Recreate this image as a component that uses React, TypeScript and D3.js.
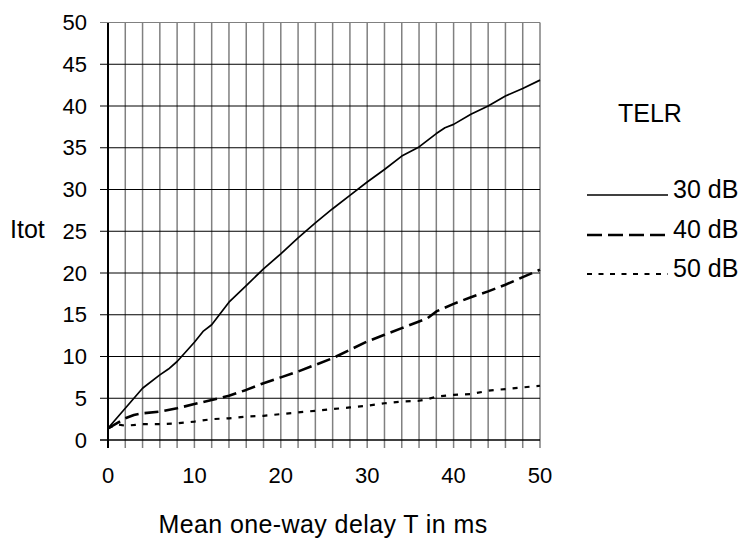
import * as d3 from "d3";

// TELR 30 dB
const delay30 = [0, 2, 4, 6, 7, 8, 10, 11, 12, 14, 16, 18, 20, 22, 24, 26, 28, 30, 32, 34, 36, 38, 39, 40, 42, 44, 46, 48, 50];
const itot30 = [1.4, 3.8, 6.2, 7.8, 8.5, 9.4, 11.7, 13.0, 13.8, 16.5, 18.5, 20.5, 22.3, 24.2, 26.0, 27.7, 29.3, 30.9, 32.4, 34.0, 35.1, 36.7, 37.4, 37.8, 39.0, 40.0, 41.2, 42.1, 43.1];

// TELR 40 dB
const delay40 = [0, 1, 2, 3, 4, 6, 8, 10, 12, 14, 16, 18, 20, 22, 24, 26, 28, 30, 32, 34, 36, 37, 38, 40, 42, 44, 46, 48, 50];
const itot40 = [1.4, 2.0, 2.6, 3.0, 3.2, 3.4, 3.8, 4.3, 4.8, 5.3, 6.0, 6.8, 7.5, 8.2, 9.0, 9.8, 10.8, 11.8, 12.6, 13.4, 14.2, 14.6, 15.4, 16.3, 17.1, 17.8, 18.6, 19.5, 20.4];

// TELR 50 dB
const delay50 = [0, 1, 2, 4, 6, 8, 10, 12, 14, 16, 18, 20, 22, 24, 26, 28, 30, 32, 34, 36, 37, 38, 40, 42, 44, 46, 48, 50];
const itot50 = [1.4, 1.9, 1.7, 1.9, 1.9, 2.0, 2.2, 2.5, 2.6, 2.8, 2.9, 3.1, 3.3, 3.5, 3.7, 3.9, 4.1, 4.4, 4.6, 4.7, 4.9, 5.2, 5.4, 5.5, 5.9, 6.1, 6.3, 6.5];

const legendLabels = ["30 dB", "40 dB", "50 dB"];
const yTicks = [0, 5, 10, 15, 20, 25, 30, 35, 40, 45, 50];
const xTicks = [0, 10, 20, 30, 40, 50];

const W = 739;
const H = 538;
const font = "Arial, 'Liberation Sans', sans-serif";

export default function App() {
  const x = d3.scaleLinear().domain([0, 50]).range([108, 540]);
  const y = d3.scaleLinear().domain([0, 50]).range([440, 22.5]);

  const line = d3
    .line<[number, number]>()
    .x((d) => x(d[0]))
    .y((d) => y(d[1]));

  const series = [
    { pts: delay30.map((d, i) => [d, itot30[i]] as [number, number]), dash: undefined, w: 1.7 },
    { pts: delay40.map((d, i) => [d, itot40[i]] as [number, number]), dash: "14,6", w: 2.6 },
    { pts: delay50.map((d, i) => [d, itot50[i]] as [number, number]), dash: "5,7", w: 2.2 },
  ];

  const gridX = x.ticks(25);
  const legendY = [195, 235, 274];
  const legendDash = [undefined, "15,6", "5,6.5"];

  return (
    <svg
      width={W}
      height={H}
      style={{ position: "absolute", left: 0, top: 0, background: "#fff" }}
      fontFamily={font}
    >
      {/* vertical grid */}
      {gridX.map((t) => (
        <line
          key={"vx" + t}
          x1={x(t)}
          x2={x(t)}
          y1={y(50)}
          y2={y(0) + 8}
          stroke={t === 0 ? "#000" : "#808080"}
          strokeWidth={t === 0 ? 2 : 1.5}
        />
      ))}
      {/* horizontal grid */}
      {yTicks.map((t) => (
        <line
          key={"hy" + t}
          x1={x(0) - 8}
          x2={x(50)}
          y1={y(t)}
          y2={y(t)}
          stroke={t === 50 ? "#808080" : "#000"}
          strokeWidth={t === 0 ? 1.6 : 1}
        />
      ))}
      {/* y tick labels */}
      {yTicks.map((t) => (
        <text key={"yl" + t} x={87} y={y(t) + 7.5} fontSize={22} textAnchor="end">
          {t}
        </text>
      ))}
      {/* x tick labels */}
      {xTicks.map((t) => (
        <text key={"xl" + t} x={x(t)} y={483} fontSize={22} textAnchor="middle">
          {t}
        </text>
      ))}
      <text x={10} y={238} fontSize={25}>
        Itot
      </text>
      <text x={323} y={533} fontSize={25} textAnchor="middle" letterSpacing={0.4}>
        Mean one-way delay T in ms
      </text>

      {series.map((s, i) => (
        <path
          key={"s" + i}
          d={line(s.pts) || ""}
          fill="none"
          stroke="#000"
          strokeWidth={s.w}
          strokeDasharray={s.dash}
          strokeLinejoin="round"
        />
      ))}

      {/* legend */}
      <text x={618} y={122} fontSize={25}>
        TELR
      </text>
      {legendLabels.map((lab, i) => (
        <g key={lab}>
          <line
            x1={587}
            x2={668}
            y1={legendY[i]}
            y2={legendY[i]}
            stroke="#000"
            strokeWidth={i === 0 ? 1.7 : i === 1 ? 2.6 : 2}
            strokeDasharray={legendDash[i]}
          />
          <text x={673} y={legendY[i] + 3} fontSize={25}>
            {lab}
          </text>
        </g>
      ))}
    </svg>
  );
}
